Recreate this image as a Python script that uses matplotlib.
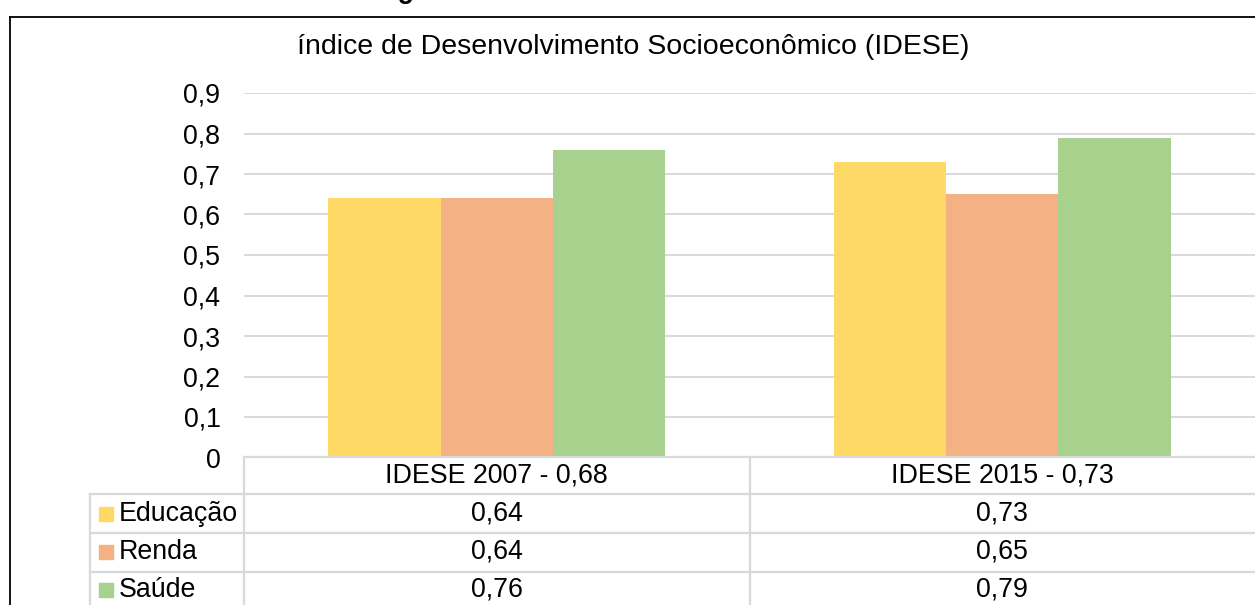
import numpy as np
import matplotlib.pyplot as plt
from matplotlib.patches import Rectangle
from matplotlib.lines import Line2D
import matplotlib.transforms as mtransforms

plt.rcParams['font.family'] = ['Liberation Sans', 'DejaVu Sans']

# Data
categories = ["IDESE 2007 - 0,68", "IDESE 2015 - 0,73"]
series_names = ["Educação", "Renda", "Saúde"]
educacao = [0.64, 0.73]
renda = [0.64, 0.65]
saude = [0.76, 0.79]
series_colors = ["#FFD966", "#F4B183", "#A9D18E"]
title = "índice de Desenvolvimento Socioeconômico (IDESE)"

W, H = 1255, 605
FS = 19.3
fig = plt.figure(figsize=(W / 100, H / 100), dpi=100)

def fx(px):
    return px / W

def fy(py):
    return 1 - py / H

# plot area
ax = fig.add_axes([fx(244), fy(457.5), fx(1255) - fx(244), fy(93) - fy(457.5)])
x = np.arange(len(categories))
bw = 0.222
for i, (vals, col) in enumerate(zip([educacao, renda, saude], series_colors)):
    ax.bar(x + (i - 1) * bw, vals, width=bw, color=col, zorder=3)

ax.set_xlim(-0.5, len(categories) - 0.5)
ax.set_ylim(0, 0.9)
yt = np.arange(0, 0.91, 0.1)
ax.set_yticks(yt)
ax.set_yticklabels(["0"] + [f"{v:.1f}".replace(".", ",") for v in yt[1:]], fontsize=FS)
ax.tick_params(axis='y', length=0, pad=17)
ax.set_xticks([])
ax.grid(axis='y', color="#D9D9D9", linewidth=1.4, zorder=0)
for s in ax.spines.values():
    s.set_visible(False)

# data table below the axis (x in data coords, y in figure coords)
tr = mtransforms.blended_transform_factory(ax.transData, fig.transFigure)
gc = "#D9D9D9"
lw = 1.6
fig.add_artist(Line2D([fx(244), 1.0], [fy(457), fy(457)], color=gc, lw=lw))
for ry in [494, 533, 572]:
    fig.add_artist(Line2D([fx(90), 1.0], [fy(ry), fy(ry)], color=gc, lw=lw))
fig.add_artist(Line2D([fx(90), fx(90)], [fy(494), 0], color=gc, lw=lw))
fig.add_artist(Line2D([fx(244), fx(244)], [fy(457), 0], color=gc, lw=lw))
for b in np.arange(0.5, len(categories) - 0.5, 1):
    fig.add_artist(Line2D([b, b], [fy(457), 0], color=gc, lw=lw, transform=tr))

for j, cat in enumerate(categories):
    fig.text(j, fy(476), cat, transform=tr, ha='center', va='center', fontsize=FS)

row_y = [514, 552, 590]
for name, vals, col, ry in zip(series_names, [educacao, renda, saude], series_colors, row_y):
    fig.add_artist(Rectangle((fx(99), fy(ry + 7)), fx(14), 14 / H, color=col))
    fig.text(fx(119), fy(ry), name, ha='left', va='center', fontsize=FS)
    for j, v in enumerate(vals):
        fig.text(j, fy(ry), f"{v:.2f}".replace(".", ","), transform=tr,
                 ha='center', va='center', fontsize=FS)

# title
fig.text(fx(633), fy(47), title, ha='center', va='center', fontsize=20.5)

# outer frame (cut at right and bottom)
fig.add_artist(Line2D([fx(10), 1.0], [fy(17), fy(17)], color='black', lw=1.3))
fig.add_artist(Line2D([fx(10), fx(10)], [fy(17), 0], color='black', lw=1.3))

# caption above the frame, mostly cut off
fig.text(fx(636), fy(-1.5), "Figura 6 - IDESE de São Sebastião do Caí", ha='center',
         va='baseline', fontsize=FS, fontweight='bold')

fig.savefig("out.png", dpi=100)
